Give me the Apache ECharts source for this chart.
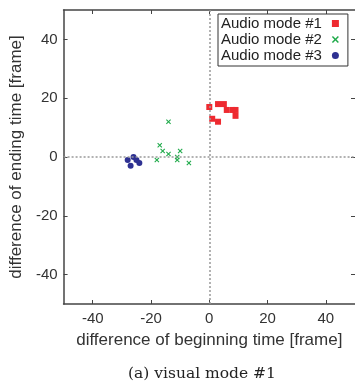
<!DOCTYPE html>
<html>
<head>
<meta charset="utf-8">
<script src="https://cdn.jsdelivr.net/npm/echarts@6/dist/echarts.min.js"></script>
<style>
  html, body { margin: 0; padding: 0; background: #fff; }
  #main { width: 355px; height: 391px; }
</style>
</head>
<body>
<div id="main"></div>
<script>
// values
var audio1X = [0, 3, 5, 6, 8, 9, 9, 1, 3];
var audio1Y = [17, 18, 18, 16, 16, 16, 14, 13, 12];
var audio2X = [-14, -17, -16, -14, -10, -11, -11, -18, -7];
var audio2Y = [12, 4, 2, 1, 2, 0, -1, -1, -2];
var audio3X = [-28, -26, -25, -24, -27];
var audio3Y = [-1, 0, -1, -2, -3];
var seriesNames = ['Audio mode #1', 'Audio mode #2', 'Audio mode #3'];
var tickValues = [-40, -20, 0, 20, 40];
var axisMin = -50, axisMax = 50;

function pairs(xs, ys) {
  var out = [];
  for (var i = 0; i < xs.length; i++) out.push([xs[i], ys[i]]);
  return out;
}

var sans = 'Liberation Sans, Arial, sans-serif';
var crossPath = 'path://M0,1.5L1.5,0L5,3.5L8.5,0L10,1.5L6.5,5L10,8.5L8.5,10L5,6.5L1.5,10L0,8.5L3.5,5Z';

// frame axes: ticks inside, dark grey
function frameAxis(pos, showLabel) {
  return {
    type: 'value',
    position: pos,
    min: axisMin, max: axisMax, interval: 10,
    axisLine: {show: true, onZero: false, lineStyle: {color: '#444', width: 1.5}},
    axisTick: {show: true, inside: true, length: 4, customValues: tickValues,
      lineStyle: {color: '#444', width: 1}},
    axisLabel: {show: showLabel, fontSize: 15, color: '#333', fontFamily: sans,
      customValues: tickValues},
    splitLine: {show: false}
  };
}

var chart = echarts.init(document.getElementById('main'));

var xBottom = frameAxis('bottom', true);
xBottom.axisLabel.margin = 7;
xBottom.name = 'difference of beginning time [frame]';
xBottom.nameLocation = 'middle';
xBottom.nameGap = 28;
xBottom.nameTextStyle = {fontSize: 17, color: '#333', fontFamily: sans};

var yLeft = frameAxis('left', true);
yLeft.axisLabel.margin = 6;
yLeft.name = 'difference of ending time [frame]';
yLeft.nameLocation = 'middle';
yLeft.nameGap = 36;
yLeft.nameTextStyle = {fontSize: 17, color: '#333', fontFamily: sans};

var xTop = frameAxis('top', false);
var yRight = frameAxis('right', false);
// right edge of the frame falls just outside the picture, only its ticks show
yRight.axisLine.show = false;

chart.setOption({
  animation: false,
  title: {
    text: '(a) visual mode #1',
    left: 123,
    top: 361,
    textStyle: {fontFamily: 'DejaVu Serif, serif', fontWeight: 'normal', fontSize: 15.5, color: '#222'}
  },
  grid: {left: 63.5, top: 10, width: 293, height: 294},
  legend: {
    data: seriesNames,
    orient: 'vertical',
    align: 'right',
    left: 218,
    top: 14,
    itemGap: 1,
    itemWidth: 7,
    itemHeight: 7,
    padding: [2, 9, 3, 3],
    backgroundColor: '#fff',
    borderColor: '#333',
    borderWidth: 1,
    textStyle: {fontSize: 15, color: '#222', fontFamily: sans, padding: [0, 5, 0, 0]}
  },
  xAxis: [xBottom, xTop],
  yAxis: [yLeft, yRight],
  series: [
    {
      name: seriesNames[0],
      type: 'scatter',
      symbol: 'rect',
      symbolSize: 6,
      itemStyle: {color: '#ee2a30', opacity: 1},
      data: pairs(audio1X, audio1Y),
      markLine: {
        silent: true,
        symbol: 'none',
        label: {show: false},
        lineStyle: {type: [2, 2], color: '#999', width: 1.5},
        data: [{xAxis: 0}, {yAxis: 0}]
      }
    },
    {
      name: seriesNames[1],
      type: 'scatter',
      symbol: crossPath,
      symbolSize: 5,
      itemStyle: {color: '#1faa4a', opacity: 1},
      data: pairs(audio2X, audio2Y)
    },
    {
      name: seriesNames[2],
      type: 'scatter',
      symbol: 'circle',
      symbolSize: 6,
      itemStyle: {color: '#2e3192', opacity: 1},
      data: pairs(audio3X, audio3Y)
    }
  ]
});
</script>
</body>
</html>
